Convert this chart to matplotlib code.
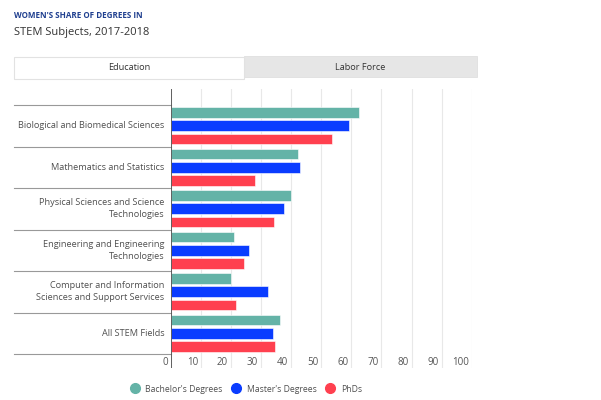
import matplotlib
matplotlib.use("Agg")
import matplotlib.pyplot as plt
import matplotlib.transforms as mtransforms
from matplotlib.patches import Rectangle
from matplotlib.lines import Line2D
import numpy as np

plt.rcParams['font.family'] = ['Open Sans', 'DejaVu Sans']

categories = [
    "Biological and Biomedical Sciences",
    "Mathematics and Statistics",
    "Physical Sciences and Science\nTechnologies",
    "Engineering and Engineering\nTechnologies",
    "Computer and Information\nSciences and Support Services",
    "All STEM Fields",
]
bachelors = [62.4, 42.4, 40.0, 21.1, 20.1, 36.2]
masters = [59.2, 43.0, 37.7, 26.0, 32.4, 34.0]
phds = [53.6, 28.1, 34.3, 24.4, 21.7, 34.7]
series_names = ["Bachelor's Degrees", "Master's Degrees", "PhDs"]
colors = ["#64b3a7", "#0a3cff", "#ff404f"]
xticks = [0, 10, 20, 30, 40, 50, 60, 70, 80, 90, 100]

W, H = 601, 400
fig = plt.figure(figsize=(W / 100, H / 100), dpi=100)

def fx(px):
    return px / W

def fy(py):
    return 1 - py / H

# Titles
fig.text(fx(14), fy(15), "WOMEN'S SHARE OF DEGREES IN", fontsize=5.8, fontweight='bold',
         color='#1f3f8f', ha='left', va='center')
fig.text(fx(14), fy(32), "STEM Subjects, 2017-2018", fontsize=8.0, color='#333333',
         ha='left', va='center')

# Tabs
fig.patches.append(Rectangle((fx(244), fy(77)), fx(477) - fx(244), fy(56) - fy(77),
                             transform=fig.transFigure, facecolor='#e6e6e6',
                             edgecolor='#e0e0e0', linewidth=0.6))
fig.patches.append(Rectangle((fx(14), fy(79)), fx(244) - fx(14), fy(57) - fy(79),
                             transform=fig.transFigure, facecolor='white',
                             edgecolor='#e2e2e2', linewidth=0.8))
fig.text(fx(129), fy(68), "Education", fontsize=6.6, color='#333333', ha='center', va='center')
fig.text(fx(360), fy(68), "Labor Force", fontsize=6.6, color='#333333', ha='center', va='center')

# Axes
left_px, right_px, top_px, bot_px = 171, 471.7, 89, 368
ax = fig.add_axes([fx(left_px), fy(bot_px), fx(right_px) - fx(left_px), fy(top_px) - fy(bot_px)])

band_top, band_bot = 105, 354
band = (band_bot - band_top) / len(categories)
ytop = -0.5 - (band_top - top_px) / band
ybot = len(categories) - 0.5 + (bot_px - band_bot) / band
ax.set_ylim(ybot, ytop)
ax.set_xlim(0, 100)

y = np.arange(len(categories))
offs = [-0.323, 0.0, 0.323]
for vals, off, c, name in zip([bachelors, masters, phds], offs, colors, series_names):
    ax.barh(y + off, vals, height=0.255, color=c, edgecolor='white', linewidth=0.4,
            label=name, zorder=3)

for s in ax.spines.values():
    s.set_visible(False)
ax.set_xticks(xticks)
ax.set_yticks([])
ax.tick_params(axis='x', length=0, labelbottom=False)
ax.grid(axis='x', color='#e8e8e8', linewidth=0.8, zorder=0)
ax.axvline(0, color='#555555', linewidth=1.3, zorder=4)

# x tick labels inside plot area, right-aligned to gridlines
lab_y = len(categories) - 0.5 + (362.5 - band_bot) / band
offset = mtransforms.ScaledTranslation(-3 / 100, 0, fig.dpi_scale_trans)
for t in xticks:
    ax.text(t, lab_y, str(t), fontsize=7.0, color='#555555', ha='right', va='center',
            transform=ax.transData + offset)

# Category separators and labels
trans = mtransforms.blended_transform_factory(ax.transAxes, ax.transData)
x0 = (14 - left_px) / (right_px - left_px)
for b in np.arange(len(categories) + 1) - 0.5:
    ax.plot([x0, 0], [b, b], transform=trans, color='#999999', linewidth=0.8, clip_on=False)
xl = (164.5 - left_px) / (right_px - left_px)
for i, cat in enumerate(categories):
    ax.text(xl, i, cat, transform=trans, ha='right', va='center', fontsize=6.6,
            color='#505050', linespacing=1.45)

# Legend
handles = [Line2D([], [], marker='o', linestyle='none', markersize=7, markerfacecolor=c,
                  markeredgecolor=c) for c in colors]
fig.legend(handles, series_names, loc='center', bbox_to_anchor=(fx(244), fy(389)), ncol=3,
           frameon=False, fontsize=6.2, handletextpad=0.2, columnspacing=0.6,
           labelcolor='#505050')

fig.savefig("out.png", dpi=100)
